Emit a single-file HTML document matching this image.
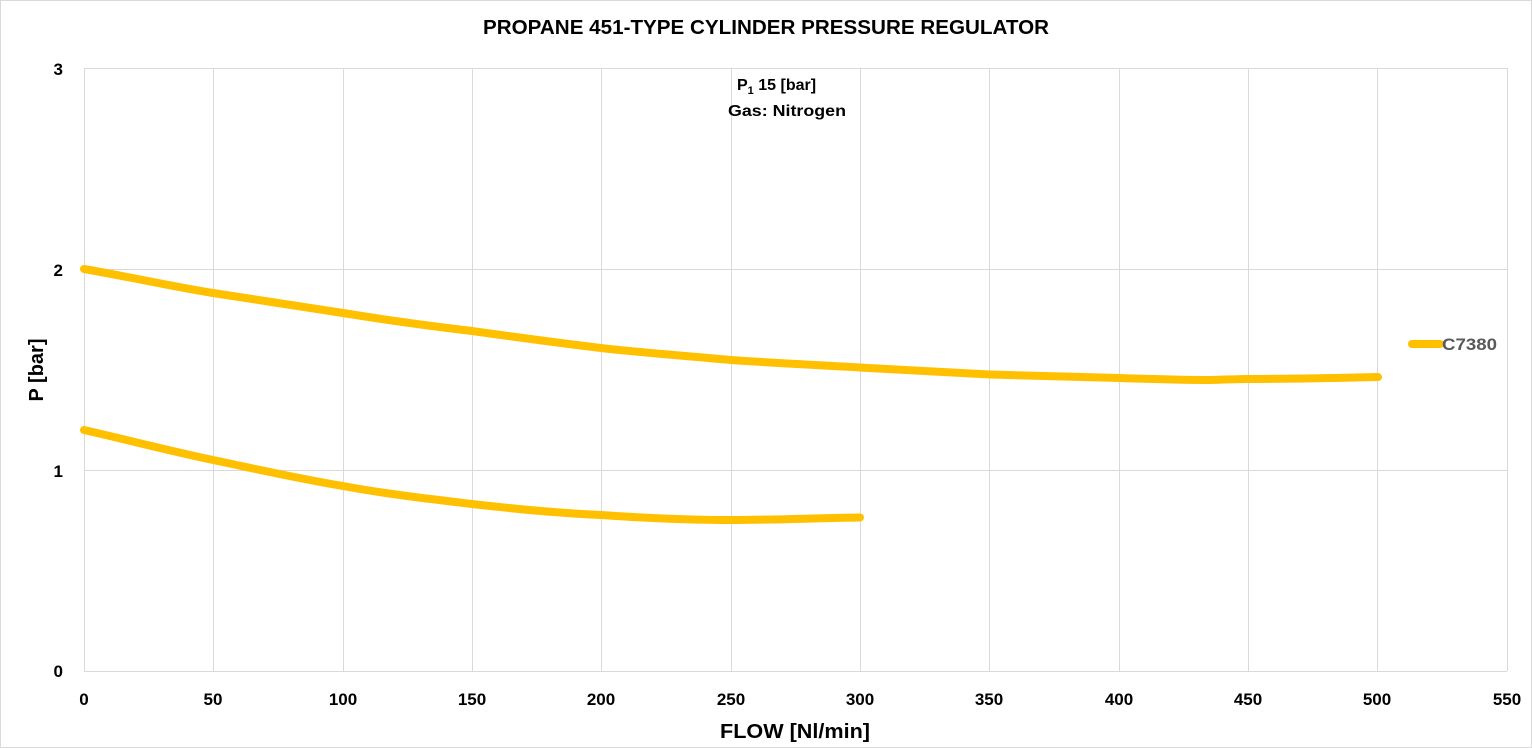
<!DOCTYPE html>
<html><head><meta charset="utf-8"><style>
html,body{margin:0;padding:0;background:#fff;}
svg{display:block;font-family:"Liberation Sans",sans-serif;}
</style></head><body>
<svg width="1532" height="748" viewBox="0 0 1532 748" xmlns="http://www.w3.org/2000/svg">
<rect x="0.5" y="0.5" width="1531" height="747" fill="#fff" stroke="#d9d9d9"/>
<g stroke="#d9d9d9" stroke-width="1">
<line x1="84" y1="68.5" x2="1507" y2="68.5"/>
<line x1="84" y1="269.5" x2="1507" y2="269.5"/>
<line x1="84" y1="470.5" x2="1507" y2="470.5"/>
<line x1="84" y1="671.5" x2="1507" y2="671.5"/>
<line x1="84.5" y1="68" x2="84.5" y2="671"/>
<line x1="213.5" y1="68" x2="213.5" y2="671"/>
<line x1="343.5" y1="68" x2="343.5" y2="671"/>
<line x1="472.5" y1="68" x2="472.5" y2="671"/>
<line x1="601.5" y1="68" x2="601.5" y2="671"/>
<line x1="731.5" y1="68" x2="731.5" y2="671"/>
<line x1="860.5" y1="68" x2="860.5" y2="671"/>
<line x1="989.5" y1="68" x2="989.5" y2="671"/>
<line x1="1119.5" y1="68" x2="1119.5" y2="671"/>
<line x1="1248.5" y1="68" x2="1248.5" y2="671"/>
<line x1="1377.5" y1="68" x2="1377.5" y2="671"/>
<line x1="1507.5" y1="68" x2="1507.5" y2="671"/>
</g>
<text x="483" y="34" textLength="566" lengthAdjust="spacingAndGlyphs" font-size="20" font-weight="bold">PROPANE 451-TYPE CYLINDER PRESSURE REGULATOR</text>
<text x="737" y="90" font-size="16" font-weight="bold">P<tspan font-size="11" dy="4">1</tspan><tspan dy="-4"> 15 [bar]</tspan></text>
<text x="728" y="116" textLength="118" lengthAdjust="spacingAndGlyphs" font-size="16" font-weight="bold">Gas: Nitrogen</text>
<g font-size="17" font-weight="bold" text-anchor="end">
<text x="63" y="75">3</text><text x="63" y="276">2</text><text x="63" y="477">1</text><text x="63" y="677">0</text>
</g>
<g font-size="17" font-weight="bold" text-anchor="middle">
<text x="84" y="705">0</text><text x="213" y="705">50</text><text x="343" y="705">100</text><text x="472" y="705">150</text><text x="601" y="705">200</text><text x="731" y="705">250</text><text x="860" y="705">300</text><text x="989" y="705">350</text><text x="1119" y="705">400</text><text x="1248" y="705">450</text><text x="1377" y="705">500</text><text x="1507" y="705">550</text>
</g>
<text x="720" y="738" textLength="150" lengthAdjust="spacingAndGlyphs" font-size="20" font-weight="bold">FLOW [Nl/min]</text>
<text transform="translate(43,370) rotate(-90)" text-anchor="middle" font-size="20" font-weight="bold">P [bar]</text>
<g fill="none" stroke="#FFC000" stroke-width="8" stroke-linecap="round" stroke-linejoin="round">
<path d="M84,269 C130,277 170,286 213,293 C256,300 300,306 343,313 C386,320 430,326 472,331 C515,337 558,343 601,348 C644,353 688,356 731,360 C774,363 817,365 860,367.5 C903,370 946,372 990,374.5 C1033,376 1076,377 1119,378 C1150,379 1180,380 1210,380 C1230,379.5 1240,379 1248,379 C1290,379 1335,378 1378,377"/>
<path d="M84,430 C128,440 170,451 213,460 C256,469 300,479 343,486 C386,494 430,499 472,504 C515,509 558,513 601,515 C644,518 688,520 731,520 C774,520 817,518 860,517.5"/>
<line x1="1412" y1="344" x2="1440" y2="344"/>
</g>
<text x="1442" y="350" textLength="55" lengthAdjust="spacingAndGlyphs" font-size="17" font-weight="bold" fill="#595959">C7380</text>
</svg>
</body></html>
